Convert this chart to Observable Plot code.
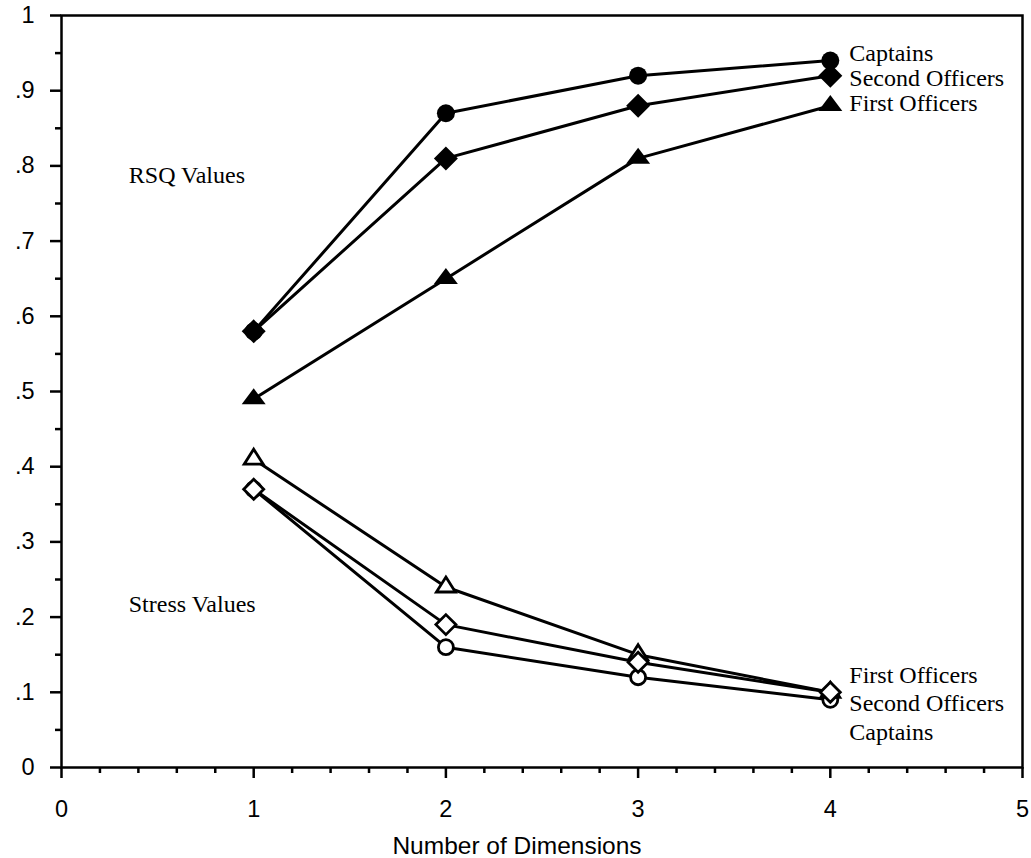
<!DOCTYPE html>
<html>
<head>
<meta charset="utf-8">
<script src="https://cdn.jsdelivr.net/npm/d3@7"></script>
<script src="https://cdn.jsdelivr.net/npm/@observablehq/plot@0.6"></script>
<style>
  html, body { margin: 0; padding: 0; background: #fff; }
</style>
</head>
<body>
<div id="chart"></div>
<script>
// ---- data ----
const dimensions = [1, 2, 3, 4];
const rsqCaptains       = [0.58, 0.87, 0.92, 0.94];
const rsqSecondOfficers = [0.58, 0.81, 0.88, 0.92];
const rsqFirstOfficers  = [0.49, 0.65, 0.81, 0.88];
const stressFirstOfficers  = [0.41, 0.24, 0.15, 0.10];
const stressSecondOfficers = [0.37, 0.19, 0.14, 0.10];
const stressCaptains       = [0.37, 0.16, 0.12, 0.09];

const xTicks = [0, 1, 2, 3, 4, 5];
const xMinorTicks = [0.2, 0.4, 0.6, 0.8, 1.2, 1.4, 1.6, 1.8, 2.2, 2.4, 2.6, 2.8, 3.2, 3.4, 3.6, 3.8, 4.2, 4.4, 4.6, 4.8];
const yTicks = [0, 0.1, 0.2, 0.3, 0.4, 0.5, 0.6, 0.7, 0.8, 0.9, 1];
const yTickLabels = ["0", ".1", ".2", ".3", ".4", ".5", ".6", ".7", ".8", ".9", "1"];
const yMinorTicks = [0.05, 0.15, 0.25, 0.35, 0.45, 0.55, 0.65, 0.75, 0.85, 0.95];

const xTitle = "Number of Dimensions";

const groupLabels = ["RSQ Values", "Stress Values"];
const groupLabelX = [0.35, 0.35];
const groupLabelY = [0.788, 0.217];

const seriesLabels = ["Captains", "Second Officers", "First Officers", "First Officers", "Second Officers", "Captains"];
const seriesLabelX = [4, 4, 4, 4, 4, 4];
const seriesLabelY = [0.950, 0.916, 0.883, 0.122, 0.085, 0.047];

// ---- tables built from the arrays ----
const seriesDefs = [
  {name: "RSQ Captains", values: rsqCaptains, shape: "circle", filled: true},
  {name: "RSQ Second Officers", values: rsqSecondOfficers, shape: "diamond", filled: true},
  {name: "RSQ First Officers", values: rsqFirstOfficers, shape: "triangle", filled: true},
  {name: "Stress First Officers", values: stressFirstOfficers, shape: "triangle", filled: false},
  {name: "Stress Second Officers", values: stressSecondOfficers, shape: "diamond", filled: false},
  {name: "Stress Captains", values: stressCaptains, shape: "circle", filled: false}
];
const rows = seriesDefs.flatMap(s => dimensions.map((d, i) => ({series: s.name, shape: s.shape, filled: s.filled, x: d, y: s.values[i]})));
const groupLabelRows = groupLabels.map((t, i) => ({t, x: groupLabelX[i], y: groupLabelY[i]}));
const seriesLabelRows = seriesLabels.map((t, i) => ({t, x: seriesLabelX[i], y: seriesLabelY[i]}));

// ---- custom symbols ----
const triangleSym = (w, h) => ({draw(ctx) {
  ctx.moveTo(0, -2 * h / 3); ctx.lineTo(w / 2, h / 3); ctx.lineTo(-w / 2, h / 3); ctx.closePath();
}});
const diamondSym = (d) => ({draw(ctx) {
  ctx.moveTo(0, -d); ctx.lineTo(d, 0); ctx.lineTo(0, d); ctx.lineTo(-d, 0); ctx.closePath();
}});
const circleSym = (r) => ({draw(ctx) {
  ctx.moveTo(r, 0); ctx.arc(0, 0, r, 0, 2 * Math.PI); ctx.closePath();
}});

const pick = (shape, filled) => rows.filter(r => r.shape === shape && r.filled === filled);

const serif = "'Liberation Serif', 'Times New Roman', serif";

const chart = Plot.plot({
  width: 1031,
  height: 858,
  marginLeft: 61,
  marginRight: 9,
  marginTop: 15,
  marginBottom: 91,
  style: {fontFamily: "'Liberation Sans', Arial, sans-serif", fontSize: "23.5px", color: "#000", background: "#fff", overflow: "visible"},
  x: {domain: [0, 5]},
  y: {domain: [0, 1]},
  marks: [
    // minor ticks
    Plot.axisX({ticks: xMinorTicks, tickSize: 6, strokeWidth: 2.5, text: null, label: null}),
    Plot.axisY({ticks: yMinorTicks, tickSize: 6, strokeWidth: 2.5, text: null, label: null}),
    // major ticks
    Plot.axisX({ticks: xTicks, tickSize: 11, tickPadding: 22, strokeWidth: 2.5, tickFormat: d => String(d), label: null}),
    Plot.axisY({ticks: yTicks, tickSize: 11, tickPadding: 16, strokeWidth: 2.5,
      tickFormat: d => yTickLabels[yTicks.indexOf(d)], label: null}),
    Plot.text([xTitle], {frameAnchor: "bottom", dy: 79, dx: -25, lineAnchor: "middle", fontSize: 24.5, fill: "#000"}),
    Plot.frame({stroke: "#000", strokeWidth: 2.5}),
    // lines
    Plot.line(rows, {x: "x", y: "y", z: "series", stroke: "#000", strokeWidth: 3}),
    // markers: circles, triangles, then diamonds on top
    Plot.dot(pick("circle", true), {x: "x", y: "y", symbol: circleSym(9), fill: "#000", stroke: "none"}),
    Plot.dot(pick("circle", false), {x: "x", y: "y", symbol: circleSym(7.5), fill: "#fff", stroke: "#000", strokeWidth: 2.8}),
    Plot.dot(pick("triangle", true), {x: "x", y: "y", symbol: triangleSym(24, 16), fill: "#000", stroke: "none"}),
    Plot.dot(pick("triangle", false), {x: "x", y: "y", symbol: triangleSym(19, 15), fill: "#fff", stroke: "#000", strokeWidth: 2.8}),
    Plot.dot(pick("diamond", true), {x: "x", y: "y", symbol: diamondSym(12), fill: "#000", stroke: "none"}),
    Plot.dot(pick("diamond", false), {x: "x", y: "y", symbol: diamondSym(10), fill: "#fff", stroke: "#000", strokeWidth: 2.8}),
    // annotations
    Plot.text(groupLabelRows, {x: "x", y: "y", text: "t", textAnchor: "start", lineAnchor: "middle", fontFamily: serif, fontSize: 24, fill: "#000"}),
    Plot.text(seriesLabelRows, {x: "x", y: "y", text: "t", dx: 19, textAnchor: "start", lineAnchor: "middle", fontFamily: serif, fontSize: 24, fill: "#000"})
  ]
});
document.getElementById("chart").appendChild(chart);
</script>
</body>
</html>
